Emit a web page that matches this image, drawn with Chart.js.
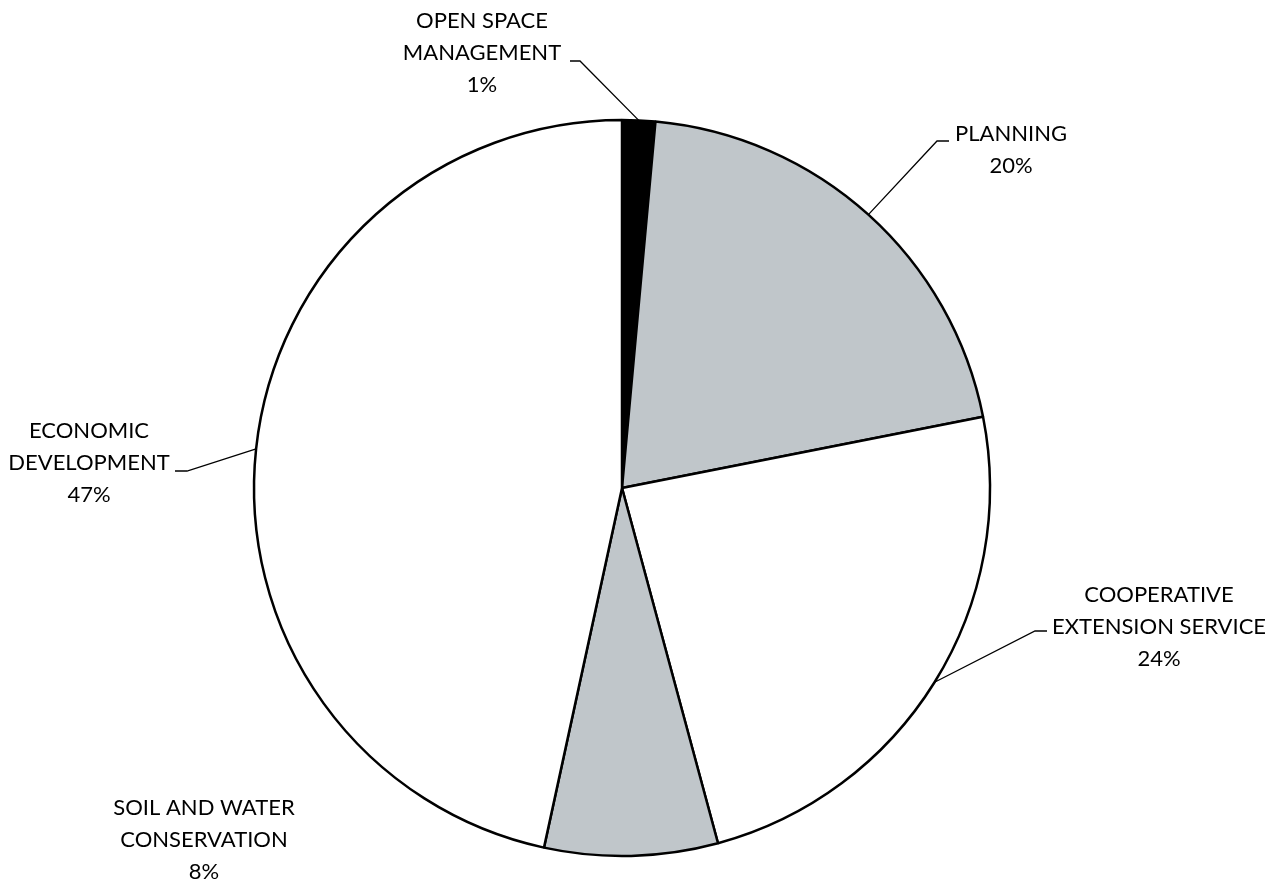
<!DOCTYPE html>
<html>
<head>
<meta charset="utf-8">
<script src="https://cdn.jsdelivr.net/npm/chart.js@4.4.1/dist/chart.umd.min.js"></script>
<style>
    html, body { margin: 0; padding: 0; background: #ffffff; }
    #wrap { width: 1281px; height: 884px; }
</style>
</head>
<body>
<div id="wrap"><canvas id="budgetPie" width="1281" height="884"></canvas></div>
<script>
// valores (percentual de cada fatia)
const categories = ['OPEN SPACE MANAGEMENT', 'PLANNING', 'COOPERATIVE EXTENSION SERVICE', 'SOIL AND WATER CONSERVATION', 'ECONOMIC DEVELOPMENT'];
const labelLines = [['OPEN SPACE', 'MANAGEMENT'], ['PLANNING'], ['COOPERATIVE', 'EXTENSION SERVICE'], ['SOIL AND WATER', 'CONSERVATION'], ['ECONOMIC', 'DEVELOPMENT']];
const shares = [1.45, 20.45, 23.9, 7.6, 46.6];
const sliceColors = ['#000000', '#c0c6ca', '#ffffff', '#c0c6ca', '#ffffff'];

// posição dos rótulos: centro do texto, primeira linha de base e cotovelo da linha guia
const labelLayout = [
    { cx: 482, y: 28, leader: { x1: 580, x2: 570, y: 61 } },
    { cx: 1011, y: 141, leader: { x1: 937, x2: 949, y: 141 } },
    { cx: 1159, y: 602, leader: { x1: 1035, x2: 1047, y: 631 } },
    { cx: 204, y: 815, leader: null },
    { cx: 89, y: 438, leader: { x1: 187, x2: 175, y: 471 } }
];

const FONT = '22px Lato, "Open Sans", sans-serif';
const LINE_H = 32;

const total = shares.reduce((a, b) => a + b, 0);

const outsideLabels = {
    id: 'outsideLabels',
    afterDatasetsDraw(chart) {
        const ctx = chart.ctx;
        const arcs = chart.getDatasetMeta(0).data;
        ctx.save();
        ctx.font = FONT;
        ctx.fillStyle = '#000';
        ctx.textAlign = 'center';
        ctx.textBaseline = 'alphabetic';
        arcs.forEach((arc, i) => {
            const lay = labelLayout[i];
            const lines = labelLines[i].concat([Math.round(shares[i] / total * 100) + '%']);
            lines.forEach((txt, k) => ctx.fillText(txt, lay.cx, lay.y + k * LINE_H));

            if (lay.leader) {
                const p = arc.getProps(['x', 'y', 'startAngle', 'endAngle', 'outerRadius'], true);
                const mid = (p.startAngle + p.endAngle) / 2;
                const ax = p.x + Math.cos(mid) * p.outerRadius;
                const ay = p.y + Math.sin(mid) * p.outerRadius;
                ctx.beginPath();
                ctx.strokeStyle = '#000';
                ctx.lineWidth = 1.3;
                ctx.moveTo(ax, ay);
                ctx.lineTo(lay.leader.x1, lay.leader.y);
                ctx.lineTo(lay.leader.x2, lay.leader.y);
                ctx.stroke();
            }
        });
        ctx.restore();
    }
};

new Chart(document.getElementById('budgetPie'), {
    type: 'pie',
    data: {
        labels: categories,
        datasets: [{
            data: shares,
            backgroundColor: sliceColors,
            borderColor: '#000000',
            borderWidth: 2.5
        }]
    },
    options: {
        responsive: false,
        animation: false,
        radius: 368,
        layout: { padding: { left: 253, right: 290, top: 120, bottom: 28 } },
        plugins: {
            legend: { display: false },
            tooltip: { enabled: false }
        }
    },
    plugins: [outsideLabels]
});
</script>
</body>
</html>
